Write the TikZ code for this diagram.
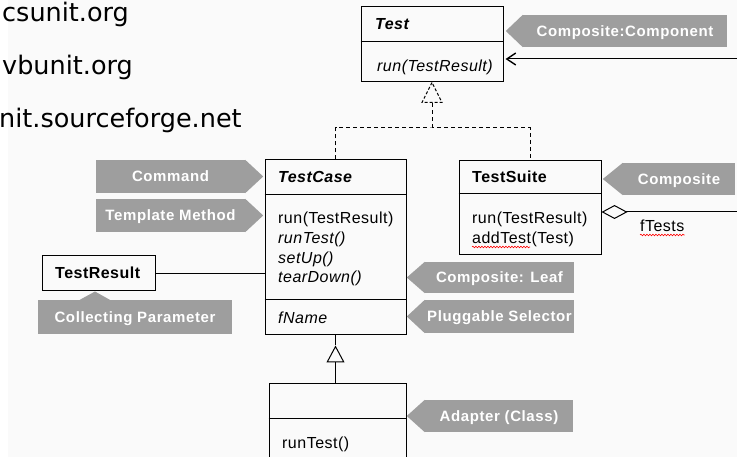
\documentclass[tikz,border=0pt]{standalone}
\usepackage{fontspec}
\setmainfont{Liberation Sans}
\newfontfamily\urlfont{DejaVu Sans}
\newfontfamily\umlfont[LetterSpace=3]{Liberation Sans}
\newfontfamily\lblfont[LetterSpace=4]{Liberation Sans}
\usetikzlibrary{arrows.meta,calc,decorations.pathmorphing}
\definecolor{lblgray}{RGB}{158,158,158}
\definecolor{bggray}{RGB}{250,250,250}
\begin{document}
\begin{tikzpicture}[x=1pt,y=-1pt,
  cls/.style={draw,line width=1pt,inner sep=0pt},
  mtxt/.style={font=\umlfont\fontsize{16}{19}\selectfont,inner sep=0pt,anchor=base west},
  mital/.style={font=\umlfont\fontsize{16}{19}\selectfont\itshape,inner sep=0pt,anchor=base west},
  ttl/.style={font=\umlfont\fontsize{16}{19}\selectfont\bfseries,inner sep=0pt,anchor=base west},
  ttli/.style={font=\umlfont\fontsize{16}{19}\selectfont\bfseries\itshape,inner sep=0pt,anchor=base west},
  lbl/.style={fill=lblgray,text=white,font=\lblfont\fontsize{15}{18}\selectfont\bfseries,inner sep=0pt,text height=14pt,text depth=3pt},
  urltxt/.style={font=\urlfont\fontsize{25.5}{30}\selectfont,inner sep=0pt,anchor=base west},
  realiz/.style={line width=1pt,dash pattern=on 4pt off 3pt},
  conn/.style={line width=1pt},
  squig/.style={red,line width=0.6pt,decorate,decoration={snake,amplitude=0.8pt,segment length=3pt}}
]
\useasboundingbox (0,0) rectangle (737,457);
\clip (0,0) rectangle (737,457);
\fill[white] (0,0) rectangle (737,457);
\fill[bggray] (8,0) rectangle (737,457);

% URL texts
\node[urltxt] (u1) at (2,21.5) {csunit.org};
\node[urltxt] (u2) at (2,75) {vbunit.org};
\node[urltxt] (u3) at (-1,128) {nit.sourceforge.net};

% Test
\node[cls,minimum width=142pt,minimum height=75pt] (test) at (432,44.5) {};
\draw[conn] (test.west |- 0,42) -- (test.east |- 0,42);
\node[ttli] (testn) at (375,30) {Test};
\node[mital] (testm) at (377,72) {run(TestResult)};

% TestCase
\node[cls,minimum width=141pt,minimum height=175pt] (tc) at (335.5,247.5) {};
\draw[conn] (tc.west |- 0,195) -- (tc.east |- 0,195);
\draw[conn] (tc.west |- 0,300) -- (tc.east |- 0,300);
\node[ttli] (tcn) at (278,183) {TestCase};
\node[mtxt] (tcm1) at (278,224) {run(TestResult)};
\node[mital] (tcm2) at (278,244) {runTest()};
\node[mital] (tcm3) at (278,263.5) {setUp()};
\node[mital] (tcm4) at (278,283) {tearDown()};
\node[mital] (tcf) at (278,324) {fName};

% TestSuite
\node[cls,minimum width=142pt,minimum height=94pt] (ts) at (530,208) {};
\draw[conn] (ts.west |- 0,194) -- (ts.east |- 0,194);
\node[ttl] (tsn) at (472,183) {TestSuite};
\node[mtxt] (tsm1) at (472,224) {run(TestResult)};
\node[mtxt] (tsm2) at (472,244) {addTest(Test)};
\draw[squig] ($(tsm2.base west)+(0,3)$) -- ++(58,0);

% TestResult
\node[cls,minimum width=113pt,minimum height=35pt] (trs) at (98.5,273.5) {};
\node[ttl] (trsn) at (55,279) {TestResult};

% Subclass (Adapter)
\node[cls,minimum width=137pt,minimum height=97pt] (sub) at (337.5,431.5) {};
\draw[conn] (sub.west |- 0,418) -- (sub.east |- 0,418);
\node[mtxt] (subm) at (282,448) {runTest()};

% connectors
\coordinate (testin) at (737,59);
\draw[conn,-{Straight Barb[length=9pt,width=12pt,line width=1.4pt]}] (testin) -- ($(test.east |- testin)+(2,0)$);

\coordinate (jn) at (432,128);
\draw[realiz] (tc.north) |- (jn) -| (ts.north);
\draw[realiz] (jn) -- ($(test.south)+(0,20)$);
\draw[line width=1pt,dash pattern=on 3pt off 2pt] (test.south) -- ++(-10,20) -- ++(20,0) -- cycle;

\coordinate (gapex) at ($(tc.south)+(0,10)$);
\draw[conn] (tc.south) -- (gapex);
\draw[conn,-{Triangle[open,length=17pt,width=18pt]}] (tc.south |- sub.north) -- (gapex);

\draw[conn] (trs.east) -- (trs.east -| tc.west);

\coordinate (aggend) at (737,212);
\draw[conn,{Diamond[open,length=26pt,width=14pt]}-] (ts.east |- aggend) -- (aggend);
\node[mtxt] (ft) at (640,232) {fTests};
\draw[squig] ($(ft.base west)+(0,3)$) -- ($(ft.base east)+(0,3)$);

% pattern labels
\node[lbl,minimum width=204pt,minimum height=32pt] (lcc) at (625,31) {Composite:Component};
\fill[lblgray] (lcc.north west) -- (lcc.south west) -- ($(lcc.west)+(-17,0)$) -- cycle;

\node[lbl,minimum width=149pt,minimum height=33pt] (lcmd) at (170.5,176.5) {Command};
\fill[lblgray] (lcmd.north east) -- (lcmd.south east) -- ($(lcmd.east)+(18,0)$) -- cycle;

\node[lbl,minimum width=149pt,minimum height=33pt] (ltm) at (170.5,215.5) {Template Method};
\fill[lblgray] (ltm.north east) -- (ltm.south east) -- ($(ltm.east)+(18,0)$) -- cycle;

\node[lbl,minimum width=194pt,minimum height=34pt] (lcp) at (135,317) {Collecting Parameter};
\fill[lblgray] ($(lcp.north west)+(42,0)$) -- ($(trs.south)+(-3.5,0)$) -- ($(lcp.north west)+(72,0)$) -- cycle;

\node[lbl,minimum width=112pt,minimum height=32pt] (lcomp) at (679,179) {Composite};
\fill[lblgray] (lcomp.north west) -- (lcomp.south west) -- ($(lcomp.west)+(-20,0)$) -- cycle;

\node[lbl,minimum width=149pt,minimum height=31pt] (lleaf) at (499.5,277.5) {Composite: Leaf};
\fill[lblgray] (lleaf.north west) -- (lleaf.south west) -- ($(lleaf.west)+(-18,0)$) -- cycle;

\node[lbl,minimum width=149pt,minimum height=33pt] (lps) at (499.5,316.5) {Pluggable Selector};
\fill[lblgray] (lps.north west) -- (lps.south west) -- ($(lps.west)+(-18,0)$) -- cycle;

\node[lbl,minimum width=148pt,minimum height=32pt] (lad) at (499,416) {Adapter (Class)};
\fill[lblgray] (lad.north west) -- (lad.south west) -- ($(lad.west)+(-18,0)$) -- cycle;
\end{tikzpicture}
\end{document}
